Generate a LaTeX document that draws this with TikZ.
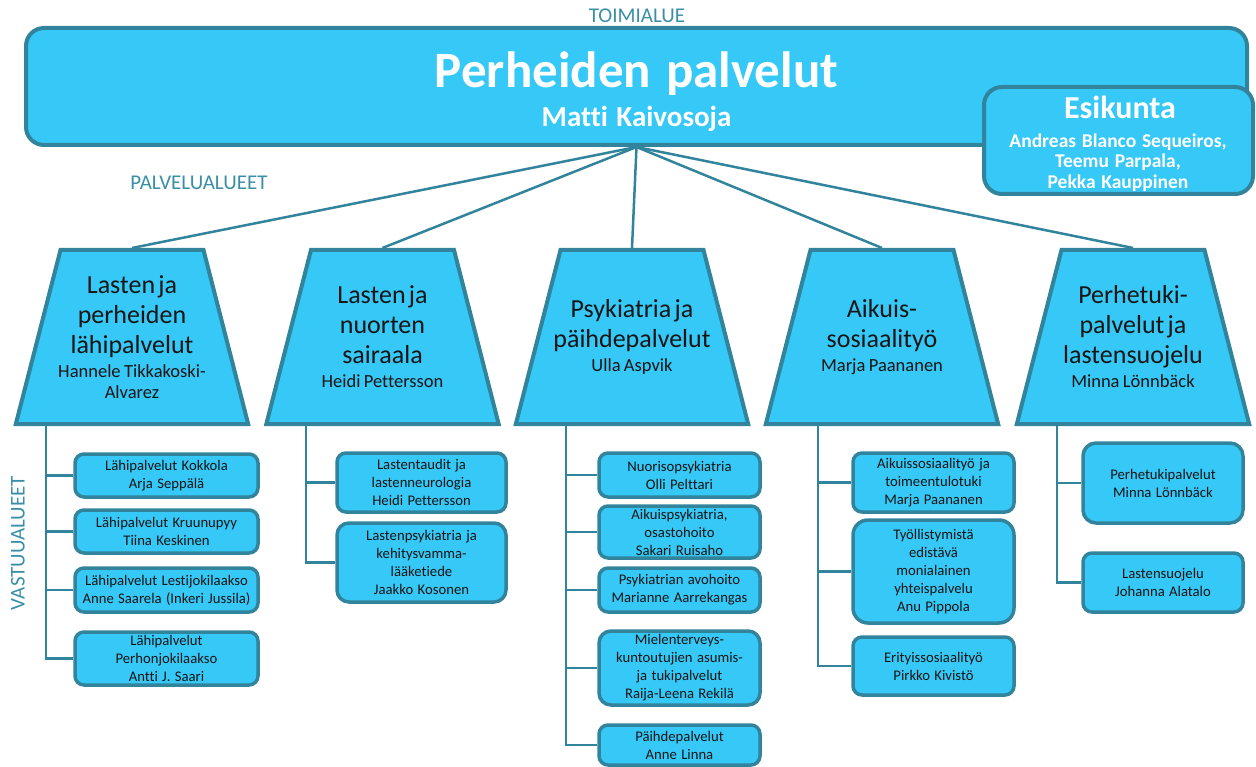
\documentclass[tikz,border=0pt]{standalone}
\usepackage{fontspec}
\setmainfont{Carlito}[Ligatures=NoCommon, WordSpace=1.3]
\usetikzlibrary{calc, shapes.geometric}
\definecolor{boxBlue}{HTML}{36C8F6}
\definecolor{edgeTeal}{HTML}{31849B}
\definecolor{labelTeal}{HTML}{3A8FA6}
\definecolor{inkDark}{HTML}{151515}
\newcommand{\areatitle}[1]{{\fontsize{26}{30}\selectfont #1\par}}
\newcommand{\areahead}[1]{{\vspace{3pt}\fontsize{18.5}{21}\selectfont #1\par}}
\tikzset{
  toplabel/.style={font=\fontsize{21}{24}\selectfont, text=labelTeal},
  bigbox/.style={draw=edgeTeal, line width=4pt, fill=boxBlue, rounded corners=18pt, inner sep=0pt},
  area/.style={trapezium, trapezium left angle=75.6, trapezium right angle=75.6,
    draw=edgeTeal, line width=4pt, fill=boxBlue, inner xsep=71.5pt, inner ysep=87pt,
    text height=0pt, text depth=0pt},
  areatext/.style={text width=225pt, align=center, text=inkDark},
  unit/.style={draw=edgeTeal, line width=3.5pt, fill=boxBlue, rounded corners=9pt, inner sep=0pt,
    align=center, text=inkDark, font=\fontsize{14.7}{18}\selectfont},
  mainline/.style={draw=edgeTeal, line width=2.5pt},
  subline/.style={draw=edgeTeal, line width=2.2pt}
}
\begin{document}
\begin{tikzpicture}[x=1pt, y=-1pt]
        \useasboundingbox (0,0) rectangle (1256,767);
        \node[toplabel, anchor=base] (toimi) at (637,23) {TOIMIALUE};
        \node[bigbox, minimum width=1221pt, minimum height=117pt] (main) at (636.5,86.5) {};
        \node[font=\fontsize{51}{60}\selectfont\bfseries, text=white, anchor=base] (mainttl) at (636.5,88)
          {Perheiden palvelut};
        \node[font=\fontsize{29}{34}\selectfont\bfseries, text=white, anchor=base] (head) at (636.5,127)
          {Matti Kaivosoja};
        \node[bigbox, minimum width=269pt, minimum height=107pt] (staff) at (1118.5,140.5) {};
        \node[font=\fontsize{32}{36}\selectfont\bfseries, text=white, anchor=base] (staffttl) at (1120,119)
          {Esikunta};
        \node[font=\fontsize{19.5}{20.5}\selectfont\bfseries, text=white, align=center, anchor=north] (staffnames)
          at (1118,130) {Andreas Blanco Sequeiros,\\Teemu Parpala,\\Pekka Kauppinen};
        \node[toplabel, anchor=base] (palv) at (199,190) {PALVELUALUEET};
        \node[toplabel, rotate=90] (vast) at (18,543) {VASTUUALUEET};

        \node[area] (t1) at (132,337) {};
        \node[area] (t2) at (382.5,337) {};
        \node[area] (t3) at (632,337) {};
        \node[area] (t4) at (882,337) {};
        \node[area] (t5) at (1133,337) {};
        \foreach \t in {t1,t2,t3,t4,t5}
          \draw[mainline] (main.south) -- (\t.north);
        \node[areatext] (t1txt) at (t1.center)
          {\areatitle{Lasten ja\\perheiden\\lähipalvelut}\areahead{Hannele Tikkakoski-\\Alvarez}};
        \node[areatext] (t2txt) at (t2.center)
          {\areatitle{Lasten ja\\nuorten\\sairaala}\areahead{Heidi Pettersson}};
        \node[areatext] (t3txt) at (t3.center)
          {\areatitle{Psykiatria ja\\päihdepalvelut}\areahead{Ulla Aspvik}};
        \node[areatext] (t4txt) at (t4.center)
          {\areatitle{Aikuis-\\sosiaalityö}\areahead{Marja Paananen}};
        \node[areatext] (t5txt) at (t5.center)
          {\areatitle{Perhetuki-\\palvelut ja\\lastensuojelu}\areahead{Minna Lönnbäck}};

        \node[unit, minimum width=183pt, minimum height=43pt] (b11) at (166.5,475.5)
          {Lähipalvelut Kokkola\\Arja Seppälä};
        \node[unit, minimum width=183pt, minimum height=43pt] (b12) at (166.5,531.5)
          {Lähipalvelut Kruunupyy\\Tiina Keskinen};
        \node[unit, minimum width=183pt, minimum height=44pt] (b13) at (166.5,590)
          {Lähipalvelut Lestijokilaakso\\Anne Saarela (Inkeri Jussila)};
        \node[unit, minimum width=183pt, minimum height=53pt] (b14) at (166.5,658.5)
          {Lähipalvelut\\Perhonjokilaakso\\Antti J. Saari};

        \node[unit, minimum width=169pt, minimum height=59pt] (b21) at (421.5,482.5)
          {Lastentaudit ja\\lastenneurologia\\Heidi Pettersson};
        \node[unit, minimum width=169pt, minimum height=79pt, rounded corners=12pt] (b22) at (421.5,562.5)
          {Lastenpsykiatria ja\\kehitysvamma-\\lääketiede\\Jaakko Kosonen};

        \node[unit, minimum width=161pt, minimum height=44pt] (b31) at (679.5,475)
          {Nuorisopsykiatria\\Olli Pelttari};
        \node[unit, minimum width=161pt, minimum height=52pt] (b32) at (679.5,532)
          {Aikuispsykiatria,\\osastohoito\\Sakari Ruisaho};
        \node[unit, minimum width=161pt, minimum height=44pt] (b33) at (679.5,590)
          {Psykiatrian avohoito\\Marianne Aarrekangas};
        \node[unit, minimum width=161pt, minimum height=74pt, rounded corners=12pt] (b34) at (679.5,668)
          {Mielenterveys-\\kuntoutujien asumis-\\ja tukipalvelut\\Raija-Leena Rekilä};
        \node[unit, minimum width=161pt, minimum height=40pt] (b35) at (679.5,745)
          {Päihdepalvelut\\Anne Linna};

        \node[unit, minimum width=161pt, minimum height=59pt] (b41) at (933.5,482.5)
          {Aikuissosiaalityö ja\\toimeentulotuki\\Marja Paananen};
        \node[unit, minimum width=161pt, minimum height=103pt, rounded corners=15pt] (b42) at (933.5,571.5)
          {Työllistymistä\\edistävä\\monialainen\\yhteispalvelu\\Anu Pippola};
        \node[unit, minimum width=161pt, minimum height=58pt] (b43) at (933.5,666)
          {Erityissosiaalityö\\Pirkko Kivistö};

        \node[unit, minimum width=160pt, minimum height=80pt, rounded corners=13pt] (b51) at (1163,483)
          {Perhetukipalvelut\\Minna Lönnbäck};
        \node[unit, minimum width=160pt, minimum height=59pt] (b52) at (1163,582.5)
          {Lastensuojelu\\Johanna Alatalo};

        \coordinate (v1) at ($(t1.bottom left corner)+(33,0)$);
        \coordinate (v2) at ($(t2.bottom left corner)+(42,0)$);
        \coordinate (v3) at ($(t3.bottom left corner)+(53,0)$);
        \coordinate (v4) at ($(t4.bottom left corner)+(55,0)$);
        \coordinate (v5) at ($(t5.bottom left corner)+(43,0)$);
        \foreach \b in {b11,b12,b13,b14}
          \draw[subline] (v1) |- (\b.west);
        \foreach \b in {b21,b22}
          \draw[subline] (v2) |- (\b.west);
        \foreach \b in {b31,b32,b33,b34,b35}
          \draw[subline] (v3) |- (\b.west);
        \foreach \b in {b41,b42,b43}
          \draw[subline] (v4) |- (\b.west);
        \foreach \b in {b51,b52}
          \draw[subline] (v5) |- (\b.west);
      \end{tikzpicture}
\end{document}
